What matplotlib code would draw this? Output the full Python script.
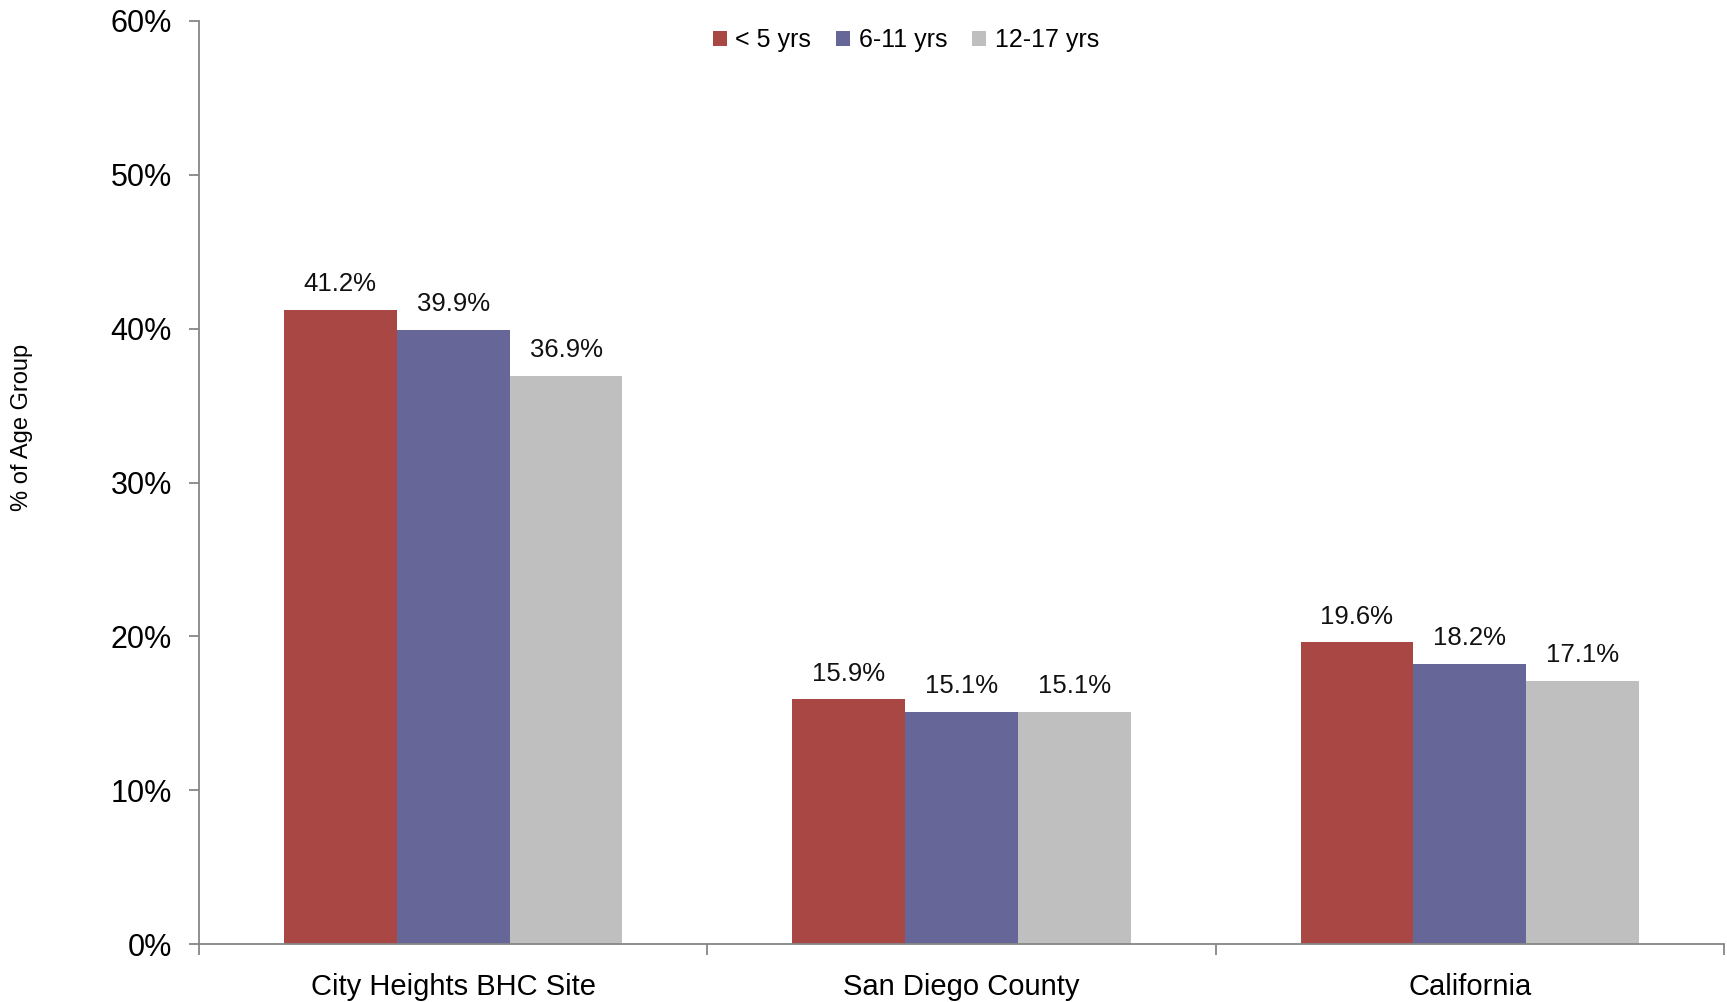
import matplotlib
matplotlib.use("Agg")
import matplotlib.pyplot as plt
import numpy as np
from matplotlib.patches import Patch

plt.rcParams['font.family'] = ['Liberation Sans', 'DejaVu Sans']

categories = ["City Heights BHC Site", "San Diego County", "California"]
series_names = ["< 5 yrs", "6-11 yrs", "12-17 yrs"]
under5 = [41.2, 15.9, 19.6]
age6_11 = [39.9, 15.1, 18.2]
age12_17 = [36.9, 15.1, 17.1]
yticks = [0, 10, 20, 30, 40, 50, 60]
colors = ["#A94744", "#666699", "#BFBFBF"]

fig = plt.figure(figsize=(17.27, 10.02), dpi=100)
ax = fig.add_axes([199/1727, 1 - 944/1002, (1724-199)/1727, (944-21)/1002])

x = np.arange(len(categories))
w = 0.222
for i, (vals, name, c) in enumerate(zip([under5, age6_11, age12_17], series_names, colors)):
    bars = ax.bar(x + (i - 1) * w, vals, width=w, color=c, label=name, zorder=2)
    for b, v in zip(bars, vals):
        ax.annotate(f"{v:.1f}%", (b.get_x() + b.get_width()/2, v), xytext=(0, 10),
                    textcoords="offset points", ha="center", va="bottom", fontsize=18.5,
                    color="#111111")

ax.set_xlim(-0.5, 2.5)
ax.set_ylim(0, 60)
ax.set_yticks(yticks)
ax.set_yticklabels([f"{t}%" for t in yticks], fontsize=22)
ax.set_xticks([-0.5, 0.5, 1.5, 2.5])
ax.set_xticklabels([])
ax.set_xticks(x, minor=True)
ax.set_xticklabels(categories, minor=True, fontsize=21)
ax.tick_params(axis='x', which='minor', length=0, pad=21)
ax.tick_params(axis='x', which='major', length=8, width=1.3, color='#868686', direction='out')
ax.tick_params(axis='y', length=7.5, width=1.3, color='#868686', pad=12)

for s in ["top", "right"]:
    ax.spines[s].set_visible(False)
for s in ["left", "bottom"]:
    ax.spines[s].set_color('#868686')
    ax.spines[s].set_linewidth(1.3)

ax.set_ylabel("% of Age Group", fontsize=17)
ax.yaxis.set_label_coords(-0.1089, 0.56)

handles = [Patch(facecolor=c, edgecolor='none') for c in colors]
ax.legend(handles, series_names, loc='center', bbox_to_anchor=(906/1727, 1 - 40/1002),
          bbox_transform=fig.transFigure, ncol=3, frameon=False, fontsize=18,
          handlelength=0.55, handleheight=0.55, handletextpad=0.35, columnspacing=1.0)

fig.savefig("out.png", dpi=100)
